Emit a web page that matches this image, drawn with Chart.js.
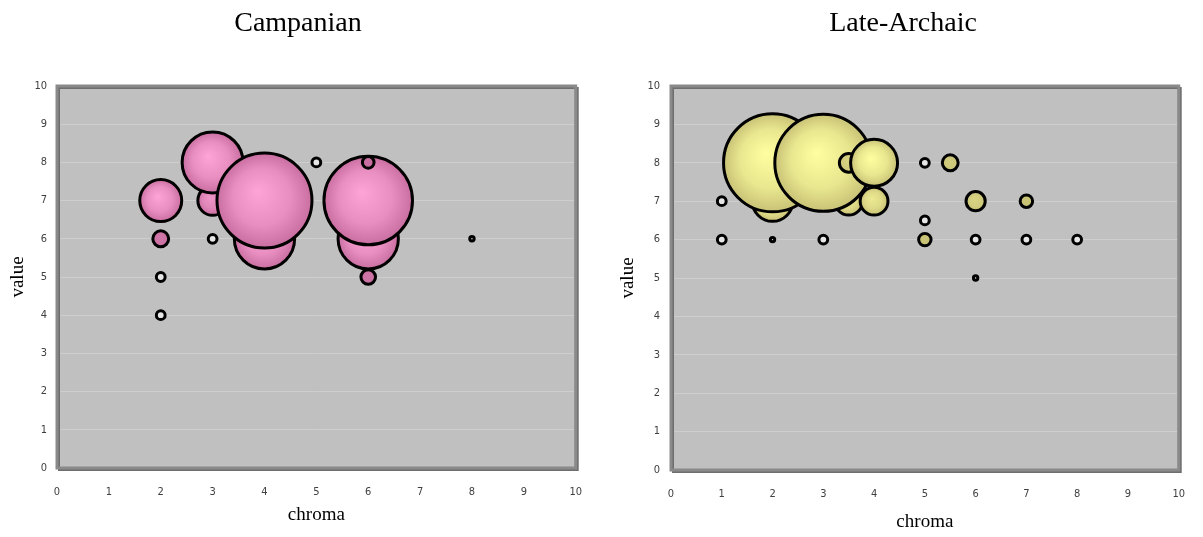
<!DOCTYPE html>
<html>
<head>
<meta charset="utf-8">
<script src="https://cdn.jsdelivr.net/npm/chart.js@4.4.1/dist/chart.umd.min.js"></script>
<style>
  body { margin: 0; background: #ffffff; }
  .panel { position: absolute; top: 0; height: 537px; }
</style>
</head>
<body>
<div class="panel" style="left:0;width:600px"><canvas id="campanian" width="600" height="537"></canvas></div>
<div class="panel" style="left:600px;width:603px"><canvas id="archaic" width="603" height="537"></canvas></div>
<script>
// Campanian bubbles (listed in the order they are stacked)
const campanianChroma = [2, 2, 2, 2, 3, 3, 3, 4, 4, 5, 6, 6, 6, 6, 8];
const campanianValue  = [4, 5, 6, 7, 6, 7, 8, 6, 7, 8, 6, 7, 8, 5, 6];
const campanianCount  = [4, 4, 13, 91, 4, 45, 192, 188, 466, 4, 188, 405, 7, 11, 1];

// Late-Archaic bubbles
const archaicChroma = [1, 1, 2, 2, 2, 3, 3.5, 3, 3.5, 4, 4, 5, 5, 5, 5.5, 6, 6, 6, 7, 7, 8];
const archaicValue  = [6, 7, 6, 7, 8, 6, 7, 8, 8, 7, 8, 6, 6.5, 8, 8, 5, 6, 7, 6, 7, 6];
const archaicCount  = [4, 4, 1, 84, 496, 4, 40, 486, 18, 40, 114, 8, 4, 4, 13, 1, 4, 19, 4, 8, 4];

const axisTicks = [0, 1, 2, 3, 4, 5, 6, 7, 8, 9, 10];

const serif = "'Liberation Serif', 'Times New Roman', serif";
const narrow = "'DejaVu Sans Condensed', 'Liberation Sans Narrow', sans-serif";

// bubble area follows the count
const radiusFor = (n) => 2.2 * Math.sqrt(n);

function mix(a, b, t) {
  const c = a.map((v, i) => Math.round(v + (b[i] - v) * t));
  return `rgb(${c[0]},${c[1]},${c[2]})`;
}

// plot area: grey fill and a dark frame
const plotFrame = {
  id: "plotFrame",
  beforeDraw(chart) {
    const { ctx, chartArea: a } = chart;
    ctx.save();
    ctx.fillStyle = "#c0c0c0";
    ctx.fillRect(a.left, a.top, a.right - a.left, a.bottom - a.top);
    ctx.restore();
  },
  beforeDatasetsDraw(chart) {
    const { ctx, chartArea: a } = chart;
    ctx.save();
    ctx.strokeStyle = "#6e6e6e";
    ctx.lineWidth = 2;
    ctx.strokeRect(a.left + 2, a.top + 2, a.right - a.left, a.bottom - a.top);
    ctx.strokeStyle = "#8a8a8a";
    ctx.lineWidth = 3;
    ctx.strokeRect(a.left, a.top, a.right - a.left, a.bottom - a.top);
    ctx.restore();
  },
};

function makeChart(id, title, chroma, value, count, light, edge, geo) {
  const points = chroma.map((x, i) => ({ x: x, y: value[i], r: radiusFor(count[i]), n: count[i] }));

  const fill = (c) => {
    const solid = mix(edge, edge, 0);
    if (c.type !== "data" || !c.raw) return solid;
    const raw = c.raw;
    if (raw.n <= 4) return "#e6e6e6";
    const chart = c.chart;
    const xs = chart.scales.x, ys = chart.scales.y;
    if (!xs || !ys) return solid;
    const cx = xs.getPixelForValue(raw.x);
    const cy = ys.getPixelForValue(raw.y);
    const r = raw.r;
    if (![cx, cy, r].every(Number.isFinite)) return solid;
    const t = Math.max(0, Math.min(1, (r - 6) / 12));
    const g = chart.ctx.createRadialGradient(cx - r * 0.15, cy - r * 0.2, 0, cx, cy, r);
    g.addColorStop(0, mix(edge, light, t));
    g.addColorStop(0.6, mix(edge, light, t * 0.6));
    g.addColorStop(1, solid);
    return g;
  };

  return new Chart(document.getElementById(id), {
    type: "bubble",
    data: {
      datasets: [
        {
          label: title,
          data: points,
          backgroundColor: fill,
          borderColor: "#000000",
          borderWidth: 3,
          hoverBorderWidth: 3,
        },
      ],
    },
    plugins: [plotFrame],
    options: {
      responsive: false,
      animation: false,
      events: [],
      layout: {
        autoPadding: false, // big bubbles must not shrink the plot area
        padding: { left: 16, right: geo.right, top: 0, bottom: 0 },
      },
      plugins: {
        legend: { display: false },
        tooltip: { enabled: false },
        title: {
          display: true,
          text: title,
          color: "#000000",
          font: { family: serif, size: 28, weight: "normal", lineHeight: 1.2 },
          padding: { top: 7, bottom: 45.4 },
        },
      },
      scales: {
        x: {
          type: "linear",
          min: 0,
          max: 10,
          afterFit: (s) => { s.height = geo.xHeight; },
          afterBuildTicks: (s) => { s.ticks = axisTicks.map((v) => ({ value: v })); },
          grid: { display: false, drawTicks: false },
          border: { display: false },
          ticks: { padding: 18, color: "#404040", font: { family: narrow, size: 11 } },
          title: {
            display: true,
            text: "chroma",
            color: "#000000",
            font: { family: serif, size: 19 },
            padding: { top: 0, bottom: geo.xTitlePad },
          },
        },
        y: {
          type: "linear",
          min: 0,
          max: 10,
          afterFit: (s) => { s.width = geo.yWidth; },
          afterBuildTicks: (s) => { s.ticks = axisTicks.map((v) => ({ value: v })); },
          grid: { color: "rgba(225,225,225,0.45)", lineWidth: 1, drawTicks: false },
          border: { display: false },
          ticks: { padding: geo.yTickPad, color: "#404040", font: { family: narrow, size: 11 } },
          title: {
            display: true,
            text: "value",
            color: "#000000",
            font: { family: serif, size: 19 },
            padding: { top: geo.yTitlePad, bottom: 0 },
          },
        },
      },
    },
  });
}

document.addEventListener("DOMContentLoaded", () => {
  makeChart("campanian", "Campanian", campanianChroma, campanianValue, campanianCount,
    [255, 164, 214], [201, 110, 160],
    { right: 20, xHeight: 69, yWidth: 41, xTitlePad: 10.6, yTitlePad: -9.4, yTickPad: 10 });

  makeChart("archaic", "Late-Archaic", archaicChroma, archaicValue, archaicCount,
    [255, 255, 160], [200, 194, 118],
    { right: 13, xHeight: 67, yWidth: 55, xTitlePad: 3.6, yTitlePad: 0.6, yTickPad: 11 });
});
</script>
</body>
</html>
